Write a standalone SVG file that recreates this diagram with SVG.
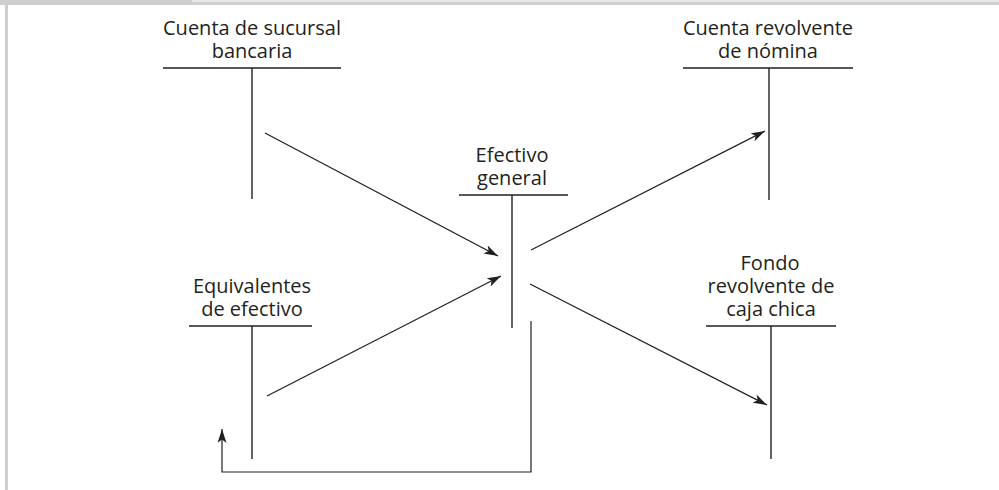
<svg xmlns="http://www.w3.org/2000/svg" width="999" height="490" viewBox="0 0 999 490">
<defs>
<style>
.t{font-family:"Open Sans","Liberation Sans",sans-serif;font-size:20px;fill:#231f20;text-anchor:middle}
.ln{stroke:#231f20;stroke-width:1.4;fill:none}
.ar{stroke:#231f20;stroke-width:1.2;fill:none;marker-end:url(#ah)}
</style>
<marker id="ah" markerUnits="userSpaceOnUse" markerWidth="16" markerHeight="10" refX="14" refY="4.5" orient="auto">
<path d="M0,0 L14,4.5 L0,9 L3.5,4.5 Z" fill="#231f20"/>
</marker>
</defs>
<rect width="999" height="490" fill="#fff"/>
<g id="frame">
<rect x="0" y="0" width="999" height="5" fill="#cfcfcf"/>
<rect x="192" y="0" width="807" height="2" fill="#e8e8e8"/>
<rect x="5" y="0" width="3" height="490" fill="#cfcfcf"/>
</g>
<g id="sucursal">
<text class="t" x="252" y="35">Cuenta de sucursal</text>
<text class="t" x="252" y="58">bancaria</text>
<line class="ln" x1="163" y1="68" x2="341" y2="68"/>
<line class="ln" x1="252" y1="68" x2="252" y2="199"/>
</g>
<g id="nomina">
<text class="t" x="768" y="35">Cuenta revolvente</text>
<text class="t" x="768" y="58">de nómina</text>
<line class="ln" x1="683" y1="68" x2="853" y2="68"/>
<line class="ln" x1="769" y1="68" x2="769" y2="200"/>
</g>
<g id="general">
<text class="t" x="512" y="162">Efectivo</text>
<text class="t" x="512" y="185">general</text>
<line class="ln" x1="459" y1="195" x2="568" y2="195"/>
<line class="ln" x1="512" y1="195" x2="512" y2="328"/>
</g>
<g id="equivalentes">
<text class="t" x="252" y="293">Equivalentes</text>
<text class="t" x="252" y="316">de efectivo</text>
<line class="ln" x1="189" y1="326" x2="312" y2="326"/>
<line class="ln" x1="252" y1="326" x2="252" y2="459"/>
</g>
<g id="cajachica">
<text class="t" x="770" y="270">Fondo</text>
<text class="t" x="771" y="293">revolvente de</text>
<text class="t" x="771" y="316">caja chica</text>
<line class="ln" x1="706" y1="326" x2="836" y2="326"/>
<line class="ln" x1="771" y1="326" x2="771" y2="459"/>
</g>
<g id="connectors">
<line class="ar" x1="265" y1="133" x2="498" y2="256"/>
<line class="ar" x1="267" y1="396" x2="501" y2="276"/>
<line class="ar" x1="531" y1="250" x2="765" y2="131"/>
<line class="ar" x1="530" y1="284" x2="767" y2="405"/>
<polyline class="ar" points="531,321 531,472 222,472 222,429"/>
</g>
</svg>
